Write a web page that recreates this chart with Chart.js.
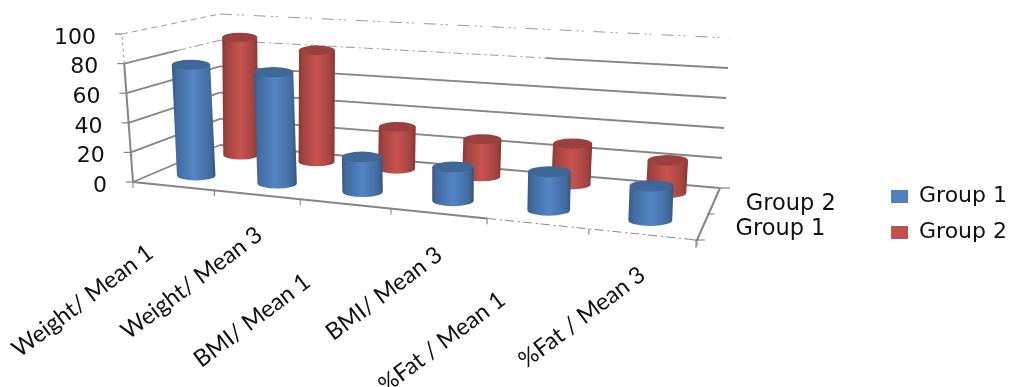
<!DOCTYPE html>
<html><head><meta charset="utf-8">
<style>html,body{margin:0;padding:0;background:#fff}#w{width:1011px;height:387px;position:relative}</style>
<script src="https://cdn.jsdelivr.net/npm/chart.js@4"></script>
</head><body><div id="w"><canvas id="c"></canvas></div>
<script>
const categories = ["Weight/ Mean 1","Weight/ Mean 3","BMI/ Mean 1","BMI/ Mean 3","%Fat / Mean 1","%Fat / Mean 3"];
const group1 = [77,77,24,23,26,23];
const group2 = [87,81,30,26,28,22];
const seriesNames = ["Group 1","Group 2"];
const seriesColors = ["#4f81bd","#c0504d"];
const valueTicks = [0,20,40,60,80,100];

// projection of the chart's unit cube on the page
const CUBE = {flb:[133,182],frb:[697,240],blb:[220,145],brb:[720,188],
              flt:[122,34],frt:[703,90],blt:[220,14],brt:[730,38]};
const DEPTH = [0.28,0.82];
const depthLabelOffset = [[32,4],[30,7]];
const labelEnds = [[155,256],[264,238],[312,285],[444,258],[507,303],[647,278]];
const persp = u => u*0.843/(1-0.157*u);
const mix=(a,b,k)=>[a[0]+(b[0]-a[0])*k,a[1]+(b[1]-a[1])*k];
function project(u,v,d){
  const t=persp(u);
  const bot=mix(mix(CUBE.flb,CUBE.frb,t),mix(CUBE.blb,CUBE.brb,t),d);
  const top=mix(mix(CUBE.flt,CUBE.frt,t),mix(CUBE.blt,CUBE.brt,t),d);
  return mix(bot,top,v);
}
function line(ctx,a,b,color,width,dash){
  ctx.save();ctx.strokeStyle=color;ctx.lineWidth=width;ctx.setLineDash(dash||[]);
  ctx.beginPath();ctx.moveTo(a[0],a[1]);ctx.lineTo(b[0],b[1]);ctx.stroke();ctx.restore();
}
function shade(hex,f){
  const n=parseInt(hex.slice(1),16);
  const c=[n>>16,(n>>8)&255,n&255].map(x=>Math.min(255,Math.round(x*f)));
  return `rgb(${c[0]},${c[1]},${c[2]})`;
}
function cylinder(ctx,b,t,w,color){
  const r=w/2, ry=w*0.13;
  const g=ctx.createLinearGradient(Math.min(b[0],t[0])-r,0,Math.max(b[0],t[0])+r,0);
  g.addColorStop(0,shade(color,0.7));g.addColorStop(0.12,shade(color,0.84));
  g.addColorStop(0.5,shade(color,1.04));g.addColorStop(0.88,shade(color,0.84));g.addColorStop(1,shade(color,0.66));
  ctx.fillStyle=g;ctx.beginPath();
  ctx.moveTo(t[0]-r,t[1]);ctx.lineTo(b[0]-r,b[1]);
  ctx.ellipse(b[0],b[1],r,ry,0,Math.PI,0,true);
  ctx.lineTo(t[0]+r,t[1]);ctx.closePath();ctx.fill();
  ctx.fillStyle=shade(color,0.8);ctx.beginPath();
  ctx.ellipse(t[0],t[1],r,ry,0,0,Math.PI*2);ctx.fill();
}
const cube3d={id:'cube3d',
  beforeDatasetsDraw(chart){
    const ctx=chart.ctx, X=chart.scales.x, Y=chart.scales.y;
    const n=categories.length, GRID='#858585', FAINT='#9a9a9a', D=[9,4,2,3];
    const U=px=>(px-X.left)/X.width, V=px=>(Y.bottom-px)/Y.height;
    ctx.save();ctx.filter='blur(0.6px)';
    // gridlines on the left and back walls
    Y.ticks.forEach(tk=>{
      const v=(tk.value-Y.min)/(Y.max-Y.min);
      const a=project(0,v,0),b=project(0,v,1),c=project(1,v,1);
      if(tk.value<80){line(ctx,a,b,GRID,1.8);line(ctx,b,c,GRID,1.8);}
      else if(tk.value===80){
        const m=mix(a,b,0.55),k=project(0.68,v,1);
        line(ctx,a,m,GRID,1.8);line(ctx,m,b,FAINT,1,D);line(ctx,b,k,FAINT,1,D);line(ctx,k,c,GRID,1.8);
      } else {line(ctx,a,b,FAINT,1,[6,4]);line(ctx,b,c,FAINT,1,[12,5,2,3,2,10]);}
      line(ctx,[a[0]-7,a[1]],a,GRID,1.2);
    });
    // axes
    const o=project(0,0,0);
    line(ctx,o,project(0,.8,0),GRID,2);
    line(ctx,project(0,.8,0),project(0,1,0),FAINT,1,[3,3]);
    const mid=project(4/6,0,0);
    line(ctx,o,mid,GRID,2);line(ctx,mid,project(1,0,0),'#888',1,D);
    for(let i=0;i<=n;i++){const p=project(i/n,0,0);line(ctx,p,[p[0],p[1]+6],'#777',1);}
    const fr=project(1,0,0),br=project(1,0,1),dm=project(1,0,.5);
    line(ctx,fr,br,GRID,2);
    line(ctx,[fr[0]-4,fr[1]],[fr[0]+8,fr[1]],'#777',1);
    line(ctx,[fr[0]-1,fr[1]],[fr[0]-1,fr[1]+8],'#777',1);
    line(ctx,[dm[0]-1,dm[1]],[dm[0]+6,dm[1]],'#777',1);
    line(ctx,[br[0],br[1]],[br[0]+10,br[1]],GRID,1.2);
    // cylinders, back row first
    [1,0].forEach(ds=>{
      const meta=chart.getDatasetMeta(ds), d=DEPTH[ds], col=seriesColors[ds];
      meta.data.forEach(el=>{
        const u=U(el.x), b=project(u,V(el.base),d), t=project(u,V(el.y),d);
        const w=38+6.5*persp(u)-(d-DEPTH[0])*6.5;
        cylinder(ctx,b,t,w,col);
      });
    });
    ctx.filter='none';
    // text
    ctx.fillStyle='#111';
    ctx.font='22px "DejaVu Sans"';ctx.textAlign='right';ctx.textBaseline='middle';
    Y.ticks.forEach(tk=>{
      const p=project(0,(tk.value-Y.min)/(Y.max-Y.min),0);
      ctx.fillText(Y.getLabelForValue(tk.value),p[0]-26,p[1]+4);
    });
    ctx.textAlign='left';ctx.font='22.5px "DejaVu Sans"';
    DEPTH.forEach((d,i)=>{
      const p=project(1,0,d);
      ctx.fillText(seriesNames[i],p[0]+depthLabelOffset[i][0],p[1]+depthLabelOffset[i][1]);
    });
    ctx.font='23.5px Lato';ctx.textAlign='right';ctx.textBaseline='alphabetic';
    categories.forEach((s,i)=>{
      ctx.save();ctx.translate(labelEnds[i][0],labelEnds[i][1]);ctx.rotate(-37*Math.PI/180);
      ctx.fillText(s,0,0);ctx.restore();
    });
    ctx.restore();
    return false;
  }
};
new Chart(document.getElementById('c'),{
  type:'bar',
  data:{labels:categories,datasets:[
    {label:seriesNames[0],data:group1,backgroundColor:seriesColors[0],grouped:false},
    {label:seriesNames[1],data:group2,backgroundColor:seriesColors[1],grouped:false}]},
  options:{responsive:true,maintainAspectRatio:false,animation:false,
    layout:{padding:{top:42,right:-6}},
    plugins:{tooltip:{enabled:false},
      legend:{position:'right',labels:{boxWidth:17,boxHeight:13,padding:14,color:'#111',
        font:{family:'"DejaVu Sans"',size:22}}}},
    scales:{
      x:{display:false,ticks:{autoSkip:false}},
      y:{display:false,min:0,max:100,afterBuildTicks(s){s.ticks=valueTicks.map(v=>({value:v}));}}
    }},
  plugins:[cube3d]
});
</script></body></html>
